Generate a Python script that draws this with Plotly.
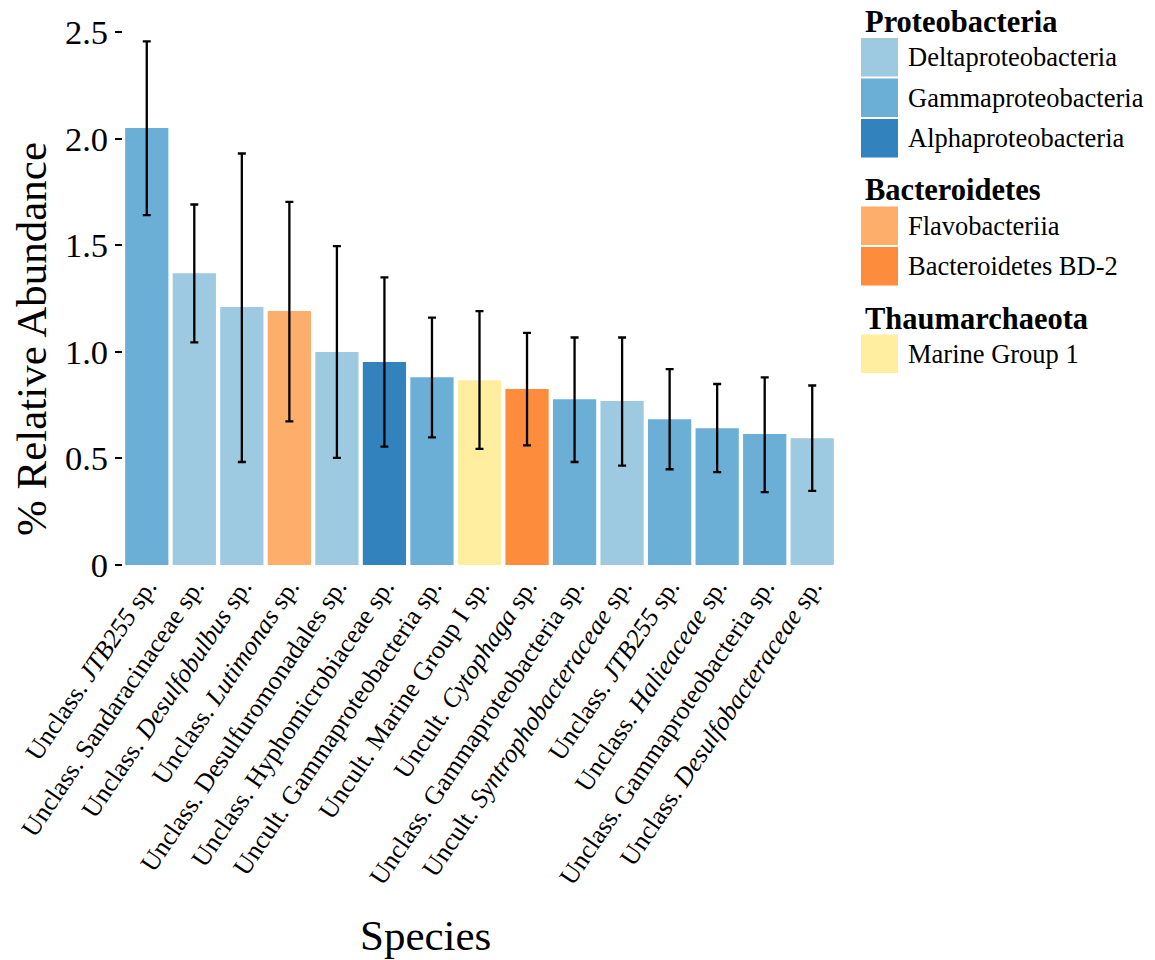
import plotly.graph_objects as go

# ---------------- data ----------------
species = [
    "Unclass. <i>JTB255</i> sp.",
    "Unclass. Sandaracinaceae sp.",
    "Unclass. <i>Desulfobulbus</i> sp.",
    "Unclass. <i>Lutimonas</i> sp.",
    "Unclass. Desulfuromonadales sp.",
    "Unclass. Hyphomicrobiaceae sp.",
    "Uncult. Gammaproteobacteria sp.",
    "Uncult. Marine Group I sp.",
    "Uncult. <i>Cytophaga</i> sp.",
    "Unclass. Gammaproteobacteria sp.",
    "Uncult. <i>Syntrophobacteraceae</i> sp.",
    "Unclass. <i>JTB255</i> sp.",
    "Unclass. <i>Halieaceae</i> sp.",
    "Unclass. Gammaproteobacteria sp.",
    "Unclass. <i>Desulfobacteraceae</i> sp.",
]
species_class = [
    "Gammaproteobacteria", "Deltaproteobacteria", "Deltaproteobacteria", "Flavobacteriia",
    "Deltaproteobacteria", "Alphaproteobacteria", "Gammaproteobacteria", "Marine Group 1",
    "Bacteroidetes BD-2", "Gammaproteobacteria", "Deltaproteobacteria", "Gammaproteobacteria",
    "Gammaproteobacteria", "Gammaproteobacteria", "Deltaproteobacteria",
]
abundance = [2.05, 1.369, 1.21, 1.191, 0.999, 0.952, 0.881, 0.867, 0.825, 0.778, 0.769, 0.684, 0.642, 0.614, 0.595]
err_high = [2.456, 1.691, 1.93, 1.703, 1.496, 1.349, 1.160, 1.191, 1.089, 1.067, 1.067, 0.919, 0.849, 0.880, 0.842]
err_low = [1.641, 1.044, 0.483, 0.674, 0.502, 0.555, 0.599, 0.545, 0.561, 0.483, 0.466, 0.449, 0.436, 0.342, 0.348]

y_tick_vals = [0, 0.5, 1.0, 1.5, 2.0, 2.5]
y_tick_text = ["0", "0.5", "1.0", "1.5", "2.0", "2.5"]

legend_groups = [
    ("Proteobacteria", ["Deltaproteobacteria", "Gammaproteobacteria", "Alphaproteobacteria"]),
    ("Bacteroidetes", ["Flavobacteriia", "Bacteroidetes BD-2"]),
    ("Thaumarchaeota", ["Marine Group 1"]),
]
class_colors = {
    "Deltaproteobacteria": "#9ecae1",
    "Gammaproteobacteria": "#6baed6",
    "Alphaproteobacteria": "#3182bd",
    "Flavobacteriia": "#fdae6b",
    "Bacteroidetes BD-2": "#fd8d3c",
    "Marine Group 1": "#ffeda0",
}

# ---------------- figure ----------------
OFF = 8  # page body margin offset
W, H = 1155 - OFF, 960 - OFF
L, T = 123 - OFF, 32 - OFF
PW, PH = 713, 533
R, B = W - L - PW, H - T - PH
FONT = "Liberation Serif, Times New Roman, serif"

fig = go.Figure()
positions = list(range(len(species)))
for cls, color in class_colors.items():
    idx = [i for i, c in enumerate(species_class) if c == cls]
    if not idx:
        continue
    fig.add_trace(go.Bar(
        x=[positions[i] for i in idx],
        y=[abundance[i] for i in idx],
        width=0.91,
        marker=dict(color=color, line=dict(width=0)),
        error_y=dict(
            type="data", symmetric=False,
            array=[err_high[i] - abundance[i] for i in idx],
            arrayminus=[abundance[i] - err_low[i] for i in idx],
            color="black", thickness=2.3, width=4,
        ),
        name=cls, showlegend=False,
    ))


def px_x(p):
    # p: pixel in the photographed page
    return (p - OFF - L) / PW


def px_y(p):
    return (T + PH - (p - OFF)) / PH


shapes = []
annotations = []
cursor = 22
for title, classes in legend_groups:
    annotations.append(dict(
        x=px_x(863), y=px_y(cursor), xref="paper", yref="paper",
        text="<b>%s</b>" % title, showarrow=False, xanchor="left", yanchor="middle",
        height=26, valign="middle",
        font=dict(family=FONT, size=30.5, color="black"),
    ))
    top = cursor + 16
    for cls in classes:
        shapes.append(dict(
            type="rect", xref="paper", yref="paper",
            x0=px_x(861), x1=px_x(898), y0=px_y(top), y1=px_y(top + 38.5),
            fillcolor=class_colors[cls], line=dict(width=0),
        ))
        annotations.append(dict(
            x=px_x(906), y=px_y(top + 19), xref="paper", yref="paper",
            text=cls, showarrow=False, xanchor="left", yanchor="middle",
            font=dict(family=FONT, size=26.5, color="black"),
        ))
        top += 40.5
    cursor = top - 2 + 33

# axis titles
annotations.append(dict(
    x=px_x(31), y=px_y(339), xref="paper", yref="paper", text="% Relative Abundance",
    showarrow=False, textangle=-90, xanchor="center", yanchor="middle",
    font=dict(family=FONT, size=43, color="black"),
))
annotations.append(dict(
    x=px_x(425), y=px_y(935), xref="paper", yref="paper", text="Species",
    showarrow=False, xanchor="center", yanchor="middle",
    font=dict(family=FONT, size=43, color="black"),
))

fig.update_layout(
    width=W, height=H,
    margin=dict(l=L, r=R, t=T, b=B, pad=0, autoexpand=False),
    paper_bgcolor="white", plot_bgcolor="white",
    barmode="overlay",
    font=dict(family=FONT, color="black"),
    shapes=shapes, annotations=annotations,
    xaxis=dict(
        range=[-0.5, len(species) - 0.5], automargin=False,
        tickmode="array", tickvals=positions, ticktext=species,
        tickangle=-56, tickfont=dict(family=FONT, size=26, color="black"),
        ticklabeloverflow="allow",
        showgrid=False, zeroline=False, showline=False, ticks="",
    ),
    yaxis=dict(
        range=[0, 2.5], automargin=False,
        tickmode="array", tickvals=y_tick_vals, ticktext=y_tick_text,
        tickfont=dict(family=FONT, size=34.5, color="black"),
        ticks="outside", ticklen=7, tickwidth=2, tickcolor="black",
        showgrid=False, zeroline=False, showline=False,
    ),
)

fig.write_html("out.html")
